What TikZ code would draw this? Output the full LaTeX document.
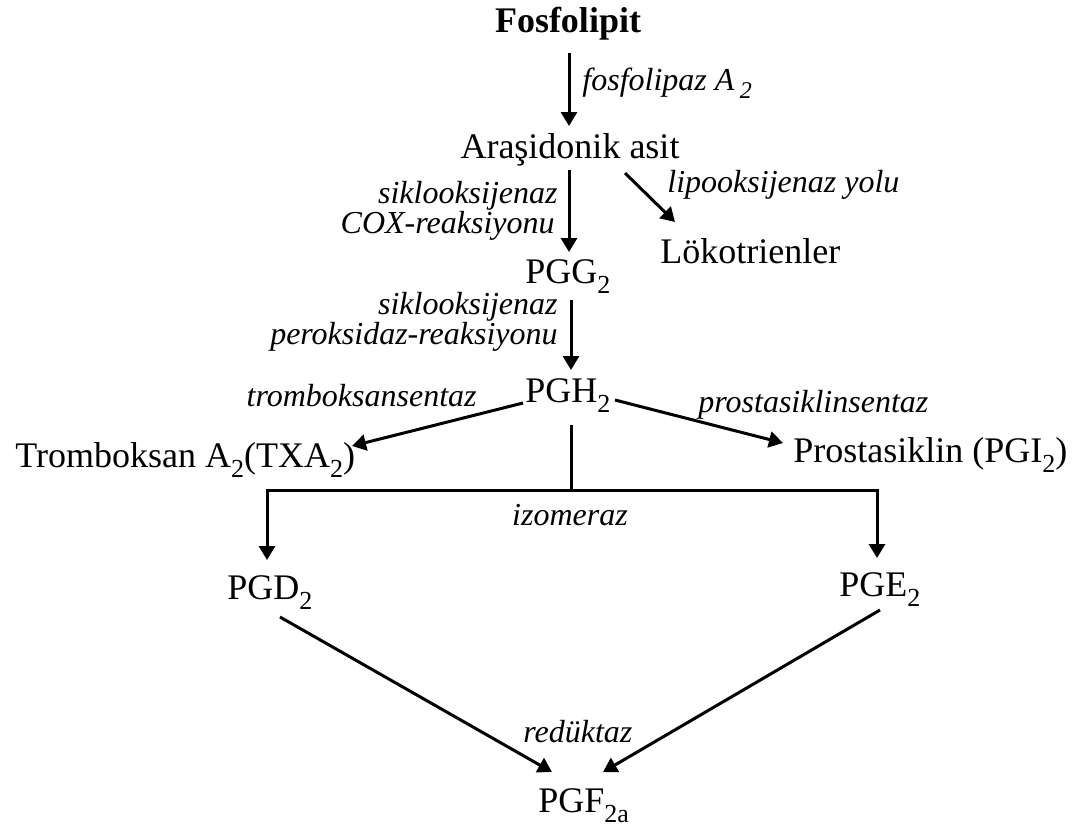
\documentclass[tikz,border=0pt]{standalone}
\usepackage{fontspec}
\setmainfont{Liberation Serif}
\usepackage{tikz}
\usetikzlibrary{
    arrows.meta
}
\tikzset{
    > = {Triangle[length=7pt, width=8pt]},
    madde/.style = {font=\fontsize{18}{21}\selectfont, inner sep=0pt},
    enzim/.style = {font=\fontsize{16}{19}\selectfont\itshape, inner sep=0pt},
    ok/.style = {->, line width=1.5pt},
    cizgi/.style = {line width=1.5pt},
}
\newcommand{\altindis}[1]{\raisebox{-5pt}{\fontsize{13}{13}\selectfont #1}}

\begin{document}
\begin{tikzpicture}[x=0.5pt, y=-0.5pt]
\useasboundingbox (0,0) rectangle (1080,832);

% maddeler
\node[madde, anchor=base, font=\fontsize{18}{21}\selectfont\bfseries] (fosfo) at (568,32) {Fosfolipit};
\node[madde, anchor=base] (arasi) at (570,158) {Araşidonik asit};
\node[madde, anchor=base west] (lokot) at (660,263) {Lökotrienler};
\node[madde, anchor=base west] (pgg) at (525,283) {PGG\altindis{2}};
\node[madde, anchor=base west] (pgh) at (525,402) {PGH\altindis{2}};
\node[madde, anchor=base west] (tromb) at (15,467) {Tromboksan A\altindis{2}(TXA\altindis{2})};
\node[madde, anchor=base west] (prost) at (793,462) {Prostasiklin (PGI\altindis{2})};
\node[madde, anchor=base west] (pgd) at (227,599) {PGD\altindis{2}};
\node[madde, anchor=base west] (pge) at (839,596) {PGE\altindis{2}};
\node[madde, anchor=base west] (pgf) at (538,812) {PGF\altindis{2a}};

% enzimler
\node[enzim, anchor=base west] (fla) at (582,90) {fosfolipaz A\,\raisebox{-4pt}{\fontsize{12}{12}\selectfont 2}};
\node[enzim, anchor=base east] (cox1) at (558,203) {siklooksijenaz};
\node[enzim, anchor=base east] (cox2) at (555,233) {COX-reaksiyonu};
\node[enzim, anchor=base west] (lox) at (667,192) {lipooksijenaz yolu};
\node[enzim, anchor=base east] (per1) at (558,314) {siklooksijenaz};
\node[enzim, anchor=base east] (per2) at (558,344) {peroksidaz-reaksiyonu};
\node[enzim, anchor=base east] (txs) at (477,406) {tromboksansentaz};
\node[enzim, anchor=base west] (pgis) at (698,412) {prostasiklinsentaz};
\node[enzim, anchor=base] (izo) at (570,525) {izomeraz};
\node[enzim, anchor=base west] (red) at (523,742) {redüktaz};

% oklar
\draw[ok] ([shift={(1,21)}]fosfo.base) -- ([shift={(-1,-32)}]arasi.base);
\draw[ok] ([shift={(-1,12)}]arasi.base) -- ([shift={(44,-31)}]pgg.base west);
\draw[ok] ([shift={(55,15)}]arasi.base) -- ([shift={(15,-41)}]lokot.base west);
\draw[ok] ([shift={(46,17)}]pgg.base west) -- ([shift={(46,-32)}]pgh.base west);
\draw[ok] ([shift={(-2,1)}]pgh.base west) -- ([shift={(337,-21)}]tromb.base west);
\draw[ok] ([shift={(90,-2)}]pgh.base west) -- ([shift={(-10,-19)}]prost.base west);

\coordinate (fork) at ([shift={(46,88)}]pgh.base west);
\draw[cizgi] ([shift={(46,23)}]pgh.base west) -- (fork);
\draw[ok] (fork) -| ([shift={(40,-39)}]pgd.base west);
\draw[ok] (fork) -| ([shift={(38,-38)}]pge.base west);

\draw[ok] ([shift={(53,18)}]pgd.base west) -- ([shift={(14,-40)}]pgf.base west);
\draw[ok] ([shift={(41,14)}]pge.base west) -- ([shift={(65,-40)}]pgf.base west);
\end{tikzpicture}
\end{document}
